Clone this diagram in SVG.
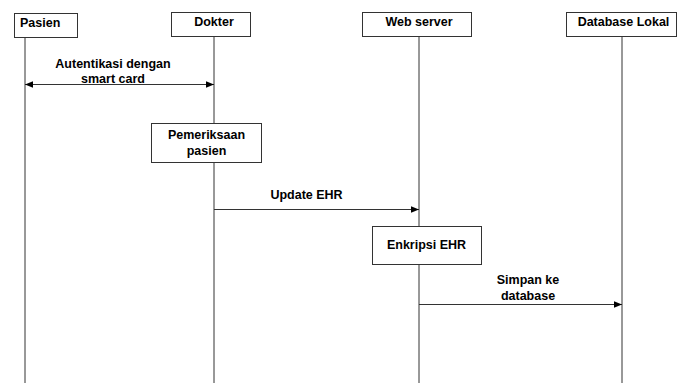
<svg xmlns="http://www.w3.org/2000/svg" width="685" height="383" viewBox="0 0 685 383">
<style>
.box{fill:#fff;stroke:#333;stroke-width:1}
.life{stroke:#333;stroke-width:1;fill:none}
.msg{stroke:#333;stroke-width:1;fill:none}
text{font-family:"Liberation Sans",Arial,sans-serif;font-size:12.5px;font-weight:bold;fill:#000}
.c{text-anchor:middle}
</style>
<defs>
<marker id="ah" viewBox="0 0 10 10" refX="10" refY="5" markerWidth="9" markerHeight="8" markerUnits="userSpaceOnUse" orient="auto-start-reverse">
<path d="M0,1 L10,5 L0,9 Z" fill="#000"/>
</marker>
</defs>
<g id="lifelines">
<line class="life" x1="25" y1="37" x2="25" y2="383"/>
<line class="life" x1="214" y1="36" x2="214" y2="383"/>
<line class="life" x1="419" y1="36" x2="419" y2="383"/>
<line class="life" x1="622" y1="36" x2="622" y2="383"/>
</g>
<g id="pasien">
<rect class="box" x="14.5" y="13.5" width="63" height="24"/>
<text x="20" y="27">Pasien</text>
</g>
<g id="dokter">
<rect class="box" x="171.5" y="12.5" width="79" height="24"/>
<text class="c" x="214" y="26">Dokter</text>
</g>
<g id="webserver">
<rect class="box" x="362.5" y="12.5" width="109" height="24"/>
<text class="c" x="419" y="26">Web server</text>
</g>
<g id="database">
<rect class="box" x="566.5" y="12.5" width="110" height="24"/>
<text class="c" x="623.5" y="26">Database Lokal</text>
</g>
<g id="pemeriksaan">
<rect class="box" x="151.5" y="123.5" width="110" height="39"/>
<text class="c" x="206.5" y="139">Pemeriksaan</text>
<text class="c" x="206.5" y="155">pasien</text>
</g>
<g id="enkripsi">
<rect class="box" x="372.5" y="226.5" width="109" height="38"/>
<text class="c" x="426.5" y="249">Enkripsi EHR</text>
</g>
<g id="connectors">
<line class="msg" x1="25" y1="84.5" x2="214" y2="84.5" marker-start="url(#ah)" marker-end="url(#ah)"/>
<line class="msg" x1="214" y1="209.5" x2="419" y2="209.5" marker-end="url(#ah)"/>
<line class="msg" x1="419" y1="304.5" x2="622" y2="304.5" marker-end="url(#ah)"/>
</g>
<g id="labels">
<text class="c" x="113" y="68">Autentikasi dengan</text>
<text class="c" x="113" y="83">smart card</text>
<text class="c" x="306.5" y="199">Update EHR</text>
<text class="c" x="528" y="284">Simpan ke</text>
<text class="c" x="528" y="300">database</text>
</g>
</svg>
